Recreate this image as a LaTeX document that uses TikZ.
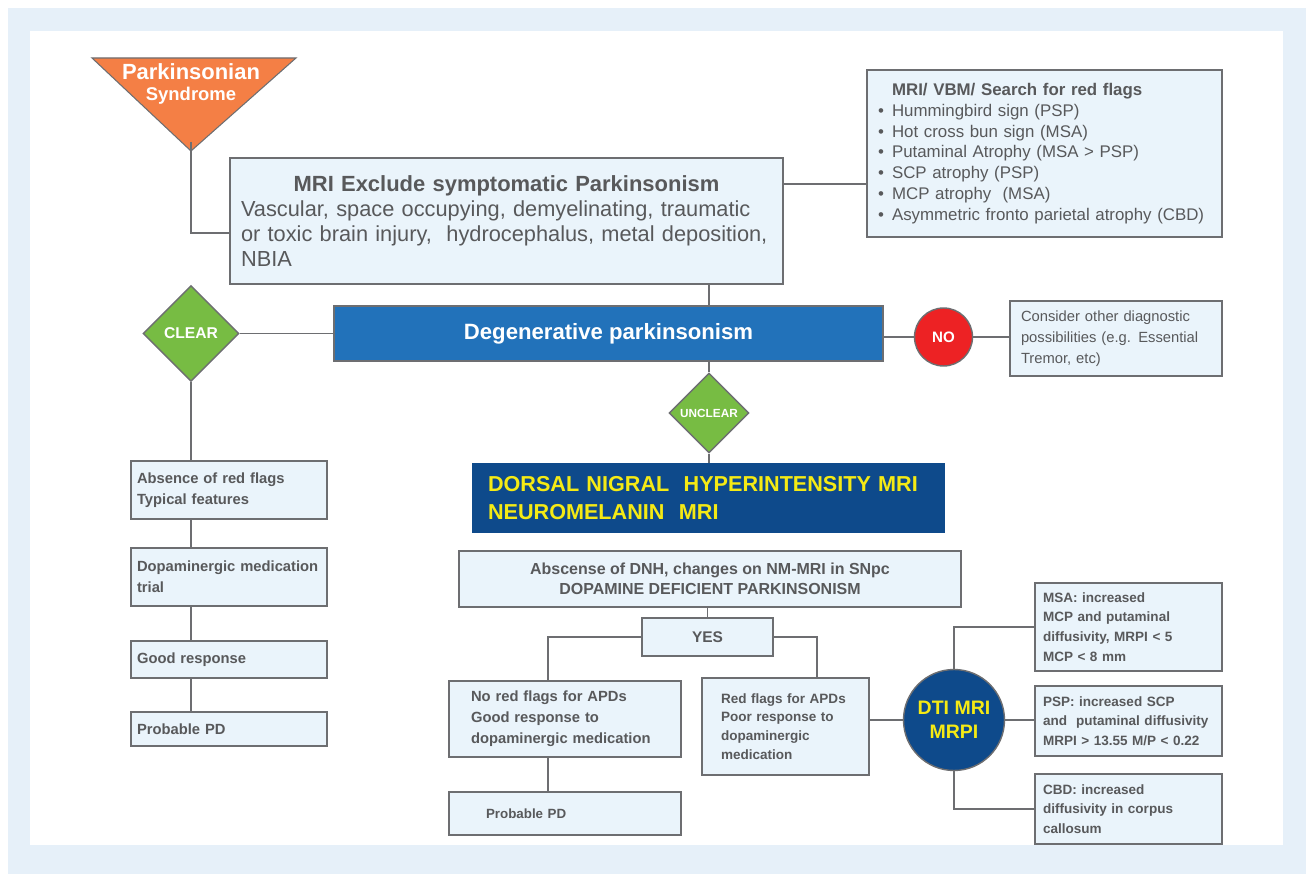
\documentclass[tikz,border=0pt]{standalone}
\usepackage{fontspec}
\setmainfont{Liberation Sans}
\usepackage{xcolor}
\usepackage{tikz}
\usetikzlibrary{shapes.geometric, positioning}

\definecolor{framebg}{HTML}{E6F0F9}
\definecolor{boxfill}{HTML}{EAF4FB}
\definecolor{linegray}{HTML}{6D6E71}
\definecolor{txtgray}{HTML}{58595B}
\definecolor{pkorange}{HTML}{F47F45}
\definecolor{okgreen}{HTML}{77BC43}
\definecolor{barblue}{HTML}{2272BA}
\definecolor{navy}{HTML}{0E4A8B}
\definecolor{flagyellow}{HTML}{F5EA14}
\definecolor{stopred}{HTML}{ED2224}

\newcommand{\fsz}[2]{\fontsize{#1}{#2}\selectfont}
\newcommand{\rfbullet}{\makebox[0.28cm][l]{\textbullet}}

\begin{document}
\begin{tikzpicture}[
  x=0.02cm, y=-0.02cm,
  box/.style={draw=linegray, line width=0.8pt, fill=boxfill, text=txtgray, inner ysep=1pt},
  lbox/.style={box, minimum width=3.92cm, inner xsep=0.12cm, text width=3.68cm, align=left, font=\fsz{8.4}{11.9}\bfseries},
  rbox/.style={box, minimum width=3.74cm, inner xsep=0.16cm, text width=3.42cm, align=left, font=\fsz{7.7}{11.2}\bfseries},
  dec/.style={diamond, aspect=1, draw=linegray, line width=0.8pt, fill=okgreen, text=white, inner sep=0pt},
  bubble/.style={circle, draw=linegray, line width=0.8pt, inner sep=0pt},
  link/.style={draw=linegray, line width=0.8pt}
]
\useasboundingbox (0,0) rectangle (1306,874);

% Frame
\fill[framebg] (8,8) rectangle (1306,874);
\fill[white] (30,31) rectangle (1283,845);

% Parkinsonian syndrome
\filldraw[fill=pkorange, draw=linegray, line width=0.6pt] (92,58) -- (296,58) -- (191,151) -- cycle;
\node[text=white, align=center, font=\fsz{12.5}{12.2}\bfseries] (park) at (191,84) {Parkinsonian\\{\fsz{10.5}{12.2}\bfseries Syndrome}};
\coordinate (apex) at (191,142);

% MRI exclusion
\node[box, minimum width=11.06cm, minimum height=2.52cm, inner xsep=0.22cm, text width=10.62cm, align=left, font=\fsz{12.4}{14.2}] (mri) at (506.5,221)
  {\makebox[10.62cm]{\fsz{12.5}{14.6}\bfseries MRI Exclude symptomatic Parkinsonism}\\
   Vascular, space occupying, demyelinating, traumatic\\
   or toxic brain injury,~ hydrocephalus, metal deposition,\\
   NBIA};

% Red flags
\node[box, minimum width=7.1cm, minimum height=3.34cm, inner xsep=0.22cm, text width=6.66cm, align=left, font=\fsz{9.6}{11.8}] (flags) at (1044.5,153.5)
  {\hspace*{0.28cm}\textbf{MRI/ VBM/ Search for red flags}\\
   \rfbullet Hummingbird sign (PSP)\\
   \rfbullet Hot cross bun sign (MSA)\\
   \rfbullet Putaminal Atrophy (MSA > PSP)\\
   \rfbullet SCP atrophy (PSP)\\
   \rfbullet MCP atrophy~ (MSA)\\
   \rfbullet Asymmetric fronto parietal atrophy (CBD)};

% Degenerative parkinsonism
\node[draw=linegray, line width=0.8pt, fill=barblue, text=white, minimum width=10.98cm, minimum height=1.1cm, font=\fsz{12.6}{15}\bfseries] (deg) at (608.5,333.5) {Degenerative parkinsonism};

% Decisions
\node[dec, minimum size=1.92cm, font=\fsz{8.9}{10}\bfseries] (clear) at (191,333.5) {CLEAR};
\node[dec, minimum size=1.6cm, font=\fsz{6.7}{8}\bfseries] (unclear) at (709,413) {UNCLEAR};
\node[bubble, fill=stopred, text=white, minimum size=1.16cm, font=\fsz{8.6}{10}\bfseries] (no) at (943.5,337) {NO};

% Other diagnoses
\node[box, minimum width=4.24cm, minimum height=1.5cm, inner xsep=0.22cm, text width=3.8cm, align=left, font=\fsz{8.4}{12}] (other) at (1116,338.5)
  {Consider other diagnostic\\possibilities (e.g. Essential\\Tremor, etc)};

% Clear branch
\node[lbox, minimum height=1.16cm] (absent) at (229,490) {Absence of red flags\\Typical features};
\node[lbox, minimum height=1.16cm] (dopa) at (229,577) {Dopaminergic medication\\trial};
\node[lbox, minimum height=0.74cm] (good) at (229,659.5) {Good response};
\node[lbox, minimum height=0.68cm] (pdone) at (229,729) {Probable PD};

% Neuromelanin
\node[fill=navy, text=flagyellow, minimum width=9.46cm, minimum height=1.4cm, inner xsep=0.32cm, text width=8.82cm, align=left, font=\fsz{12.3}{15.5}\bfseries] (dnh) at (708.5,498)
  {DORSAL NIGRAL~ HYPERINTENSITY MRI\\NEUROMELANIN~ MRI};
\node[box, minimum width=10.04cm, minimum height=1.12cm, align=center, font=\fsz{9.1}{11.7}\bfseries] (absc) at (710,579)
  {Abscense of DNH, changes on NM-MRI in SNpc\\DOPAMINE DEFICIENT PARKINSONISM};
\node[box, minimum width=2.62cm, minimum height=0.76cm, font=\fsz{8.8}{10}\bfseries] (yes) at (707.5,637) {YES};

% Unclear branch
\node[box, minimum width=4.64cm, minimum height=1.52cm, inner xsep=0.44cm, text width=3.76cm, align=left, font=\fsz{8.4}{11.9}\bfseries] (nored) at (565,719)
  {No red flags for APDs\\Good response to\\dopaminergic medication};
\node[box, minimum width=4.64cm, minimum height=0.86cm, inner xsep=0.74cm, text width=3.16cm, align=left, font=\fsz{7.6}{10}\bfseries] (pdtwo) at (565,813.5) {Probable PD};
\node[box, minimum width=3.34cm, minimum height=1.94cm, inner xsep=0.38cm, text width=2.58cm, align=left, font=\fsz{7.7}{10.7}\bfseries] (apd) at (785.5,726.5)
  {Red flags for APDs\\Poor response to\\dopaminergic\\medication};

% DTI
\node[bubble, fill=navy, text=flagyellow, minimum size=2.02cm, align=center, font=\fsz{11.1}{13.6}\bfseries] (dti) at (954,720) {DTI MRI\\MRPI};
\node[rbox, minimum height=1.76cm] (msa) at (1128.5,627) {MSA: increased\\MCP and putaminal\\diffusivity, MRPI < 5\\MCP < 8 mm};
\node[rbox, minimum height=1.4cm] (psp) at (1128.5,721) {PSP: increased SCP\\and~ putaminal diffusivity\\MRPI > 13.55 M/P < 0.22};
\node[rbox, minimum height=1.4cm] (cbd) at (1128.5,809) {CBD: increased\\diffusivity in corpus\\callosum};

% Connectors
\draw[link] (apex) |- ([yshift=-0.24cm]mri.west);
\coordinate (mrr) at ([yshift=0.74cm]mri.east);
\draw[link] (mrr) -- (mrr -| flags.west);
\draw[link] (unclear |- mri.south) -- (unclear |- deg.north);
\draw[link] (clear.east) -- (clear.east -| deg.west);
\draw[link] (no.west -| deg.east) -- (no.west);
\draw[link] (no.east) -- (no.east -| other.west);
\draw[link] (clear.south) -- (clear.south |- absent.north);
\draw[link] (clear |- absent.south) -- (clear |- dopa.north);
\draw[link] (clear |- dopa.south) -- (clear |- good.north);
\draw[link] (clear |- good.south) -- (clear |- pdone.north);
\draw[link] (unclear |- deg.south) -- (unclear.north);
\draw[link] (unclear.south) -- (unclear.south |- dnh.north);
\draw[link] (yes.north |- absc.south) -- (yes.north);
\coordinate (nl) at ([xshift=-0.34cm]nored.north);
\draw[link] (yes.west) -| (nl);
\draw[link] (nl |- nored.south) -- (nl |- pdtwo.north);
\coordinate (ar) at ([xshift=0.63cm]apd.north);
\draw[link] (yes.east) -| (ar);
\draw[link] (dti.west -| apd.east) -- (dti.west);
\draw[link] (dti.north) |- (msa.west);
\draw[link] (dti.east) -- (dti.east -| psp.west);
\draw[link] (dti.south) |- (cbd.west);
\end{tikzpicture}
\end{document}
